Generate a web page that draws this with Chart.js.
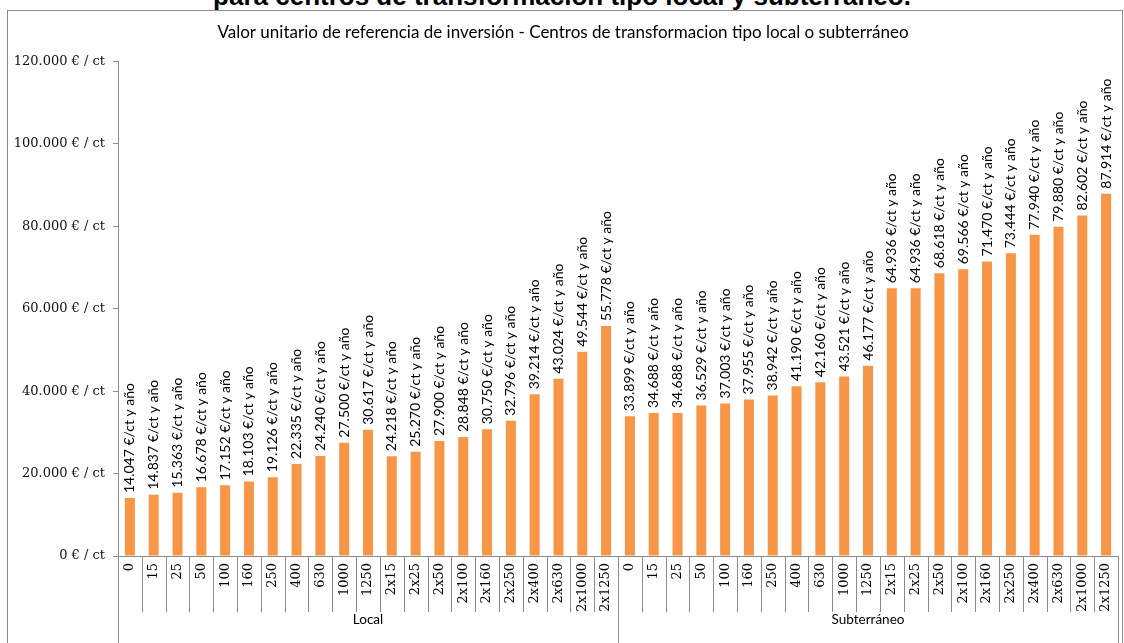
<!DOCTYPE html>
<html>
<head>
<meta charset="utf-8">
<script src="https://cdn.jsdelivr.net/npm/chart.js@4.4.1/dist/chart.umd.min.js"></script>
<style>
  html, body { margin: 0; padding: 0; background: #fff; overflow: hidden; }
  #doc-title {
    position: absolute; left: 0; top: -17px; width: 1124px; text-align: center;
    font: bold 26px "Liberation Sans", Arial, sans-serif; line-height: 26px; color: #000;
  }
  #frame {
    position: absolute; left: 7px; top: 10px; width: 1114px; height: 640px;
    border: 1px solid #8c8c8c; background: #fff;
  }
  #wrap { position: relative; width: 1114px; height: 632px; }
</style>
</head>
<body>
<div id="doc-title">para centros de transformación tipo local y subterráneo.</div>
<div id="frame"><div id="wrap"><canvas id="chart"></canvas></div></div>
<script>
// potencias (kVA) de cada grupo
const capacities = ['0', '15', '25', '50', '100', '160', '250', '400', '630', '1000', '1250',
  '2x15', '2x25', '2x50', '2x100', '2x160', '2x250', '2x400', '2x630', '2x1000', '2x1250'];
const groups = ['Local', 'Subterráneo'];

// €/ct y año
const localValues = [14047, 14837, 15363, 16678, 17152, 18103, 19126, 22335, 24240, 27500, 30617,
  24218, 25270, 27900, 28848, 30750, 32796, 39214, 43024, 49544, 55778];
const subterraneoValues = [33899, 34688, 34688, 36529, 37003, 37955, 38942, 41190, 42160, 43521, 46177,
  64936, 64936, 68618, 69566, 71470, 73444, 77940, 79880, 82602, 87914];

const yTicks = [0, 20000, 40000, 60000, 80000, 100000, 120000];

const labels = capacities.concat(capacities);
const values = localValues.concat(subterraneoValues);
const groupSizes = [localValues.length, subterraneoValues.length];

const FONT = 'Lato, "Open Sans", sans-serif';
const SERIF = '"DejaVu Serif", "Liberation Serif", serif';
const fmt = v => String(v).replace(/\B(?=(\d{3})+(?!\d))/g, '.');

// etiquetas verticales encima de cada barra
const barLabels = {
  id: 'barLabels',
  afterDatasetsDraw(chart) {
    const ctx = chart.ctx;
    const meta = chart.getDatasetMeta(0);
    ctx.save();
    ctx.font = '14px ' + FONT;
    ctx.fillStyle = '#000';
    ctx.textAlign = 'left';
    ctx.textBaseline = 'middle';
    meta.data.forEach((bar, i) => {
      ctx.save();
      ctx.translate(bar.x, bar.y - 5);
      ctx.rotate(-Math.PI / 2);
      ctx.fillText(fmt(values[i]) + ' €/ct y año', 0, 0);
      ctx.restore();
    });
    ctx.restore();
  }
};

// eje de categorías en dos niveles (potencia / tipo)
const groupAxis = {
  id: 'groupAxis',
  afterDraw(chart) {
    const ctx = chart.ctx;
    const x = chart.scales.x;
    const top = x.top;
    const innerBottom = top + 56;
    const bottom = chart.height;
    const edge = i => i === 0 ? x.left : (i === labels.length ? x.right :
      (x.getPixelForValue(i - 1) + x.getPixelForValue(i)) / 2);

    ctx.save();
    ctx.strokeStyle = '#8c8c8c';
    ctx.lineWidth = 1;
    let start = 0;
    const groupEdges = [0];
    groupSizes.forEach(n => { start += n; groupEdges.push(start); });

    for (let i = 0; i <= labels.length; i++) {
      const px = Math.round(edge(i)) + 0.5;
      const end = groupEdges.includes(i) ? bottom : innerBottom;
      ctx.beginPath();
      ctx.moveTo(px, top);
      ctx.lineTo(px, end);
      ctx.stroke();
    }

    ctx.fillStyle = '#000';
    ctx.font = '13px ' + SERIF;
    ctx.textAlign = 'right';
    ctx.textBaseline = 'middle';
    labels.forEach((lab, i) => {
      ctx.save();
      ctx.translate(x.getPixelForValue(i), top + 7);
      ctx.rotate(-Math.PI / 2);
      ctx.fillText(lab, 0, 0);
      ctx.restore();
    });

    ctx.font = '13.5px ' + FONT;
    ctx.textAlign = 'center';
    groups.forEach((g, k) => {
      const cx = (edge(groupEdges[k]) + edge(groupEdges[k + 1])) / 2;
      ctx.fillText(g, cx, innerBottom + 8);
    });
    ctx.restore();
  }
};

new Chart(document.getElementById('chart'), {
  type: 'bar',
  data: {
    labels,
    datasets: [{
      data: values,
      backgroundColor: '#F79646',
      borderWidth: 0,
      barPercentage: 0.42,
      categoryPercentage: 1
    }]
  },
  options: {
    responsive: true,
    maintainAspectRatio: false,
    animation: false,
    layout: { padding: { left: 0, right: 4, top: 0, bottom: 0 } },
    plugins: {
      legend: { display: false },
      tooltip: { enabled: false },
      title: {
        display: true,
        text: 'Valor unitario de referencia de inversión - Centros de transformacion tipo local o subterráneo',
        color: '#000',
        font: { family: FONT, size: 17, weight: 'normal' },
        padding: { top: 11, bottom: 19 }
      }
    },
    scales: {
      x: {
        offset: true,
        grid: { display: false },
        border: { display: true, color: '#8c8c8c' },
        ticks: { display: false },
        afterFit: s => { s.height = 87; }
      },
      y: {
        min: 0,
        max: 120000,
        afterBuildTicks: s => { s.ticks = yTicks.map(v => ({ value: v })); },
        grid: { drawOnChartArea: false, drawTicks: true, tickLength: 5, color: '#8c8c8c' },
        border: { display: true, color: '#8c8c8c' },
        ticks: {
          color: '#111',
          padding: 8,
          font: { family: SERIF, size: 13 },
          callback: v => fmt(v) + ' € / ct'
        },
        afterFit: s => { s.width = 110; }
      }
    }
  },
  plugins: [barLabels, groupAxis]
});
</script>
</body>
</html>
